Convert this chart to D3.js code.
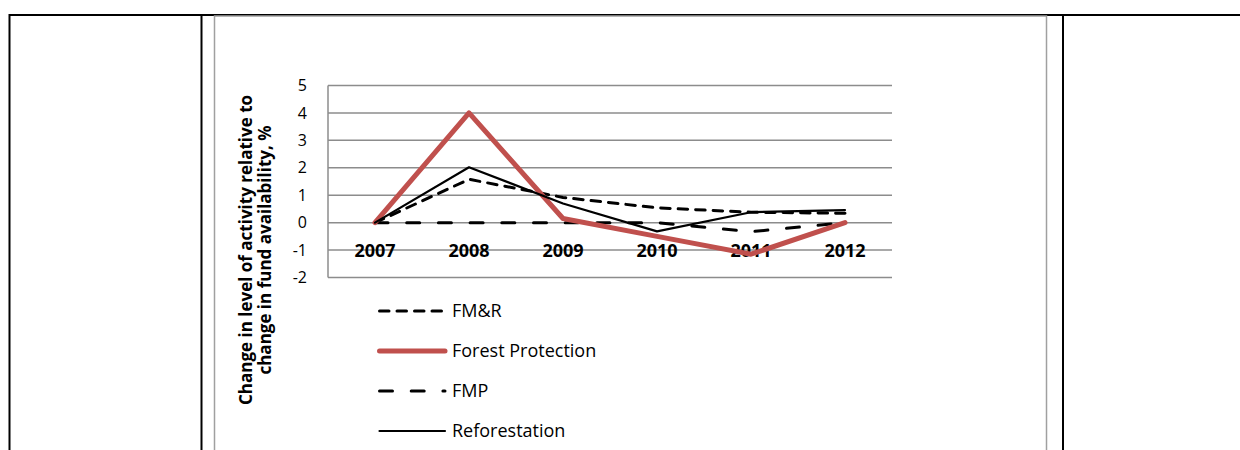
<!DOCTYPE html>
<html>
<head>
<meta charset="utf-8">
<script src="https://cdn.jsdelivr.net/npm/d3@7"></script>
<style>
  html, body { margin: 0; padding: 0; background: #fff; }
  svg { display: block; font-family: "Open Sans", Carlito, Lato, sans-serif; }
</style>
</head>
<body>
<svg id="chart" width="1240" height="450"></svg>
<script>
// Years on the category axis
const years = ["2007", "2008", "2009", "2010", "2011", "2012"];

// Change in level of activity relative to change in fund availability, %
const fmr = [0, 1.58, 0.92, 0.54, 0.38, 0.34];
const forestProtection = [0, 4.0, 0.15, -0.5, -1.15, 0];
const fmp = [0, 0, 0, 0, -0.33, 0];
const reforestation = [0, 2.02, 0.7, -0.32, 0.38, 0.46];

// Value axis ticks
const yTicks = [-2, -1, 0, 1, 2, 3, 4, 5];

const seriesNames = ["FM&R", "Forest Protection", "FMP", "Reforestation"];

const FONT = "'Open Sans', Carlito, Lato, sans-serif";
const svg = d3.select("#chart");

// Surrounding table rules
const table = svg.append("g").attr("stroke", "#000").attr("stroke-width", 2);
table.append("line").attr("x1", 9).attr("x2", 1240).attr("y1", 15).attr("y2", 15);
[9.5, 201.5, 1063].forEach(x =>
  table.append("line").attr("x1", x).attr("x2", x).attr("y1", 14).attr("y2", 450));

// Chart frame
svg.append("rect")
  .attr("x", 214.5).attr("y", 16).attr("width", 832).attr("height", 450)
  .attr("fill", "none").attr("stroke", "#a0a0a0").attr("stroke-width", 1.5);

const plot = { left: 328, right: 892, top: 85.5, bottom: 277.5 };

const x = d3.scaleBand().domain(years).range([plot.left, plot.right]);
const y = d3.scaleLinear().domain([-2, 5]).range([plot.bottom, plot.top]);

// Horizontal gridlines
svg.append("g")
  .selectAll("line").data(yTicks).join("line")
  .attr("x1", plot.left).attr("x2", plot.right)
  .attr("y1", d => y(d)).attr("y2", d => y(d))
  .attr("stroke", "#8c8c8c").attr("stroke-width", 1.5);

// Vertical value axis line
svg.append("line")
  .attr("x1", plot.left).attr("x2", plot.left)
  .attr("y1", plot.top).attr("y2", plot.bottom)
  .attr("stroke", "#8c8c8c").attr("stroke-width", 1.5);

// Value axis labels (plain hyphen for negatives)
const yAxis = d3.axisLeft(y).tickValues(yTicks).tickSize(0).tickPadding(21).tickFormat(d => String(d));
const gy = svg.append("g").attr("transform", `translate(${plot.left},0)`).call(yAxis);
gy.select(".domain").remove();
gy.selectAll("text").attr("font-size", 16).attr("fill", "#000").attr("font-family", FONT);

// Category labels, placed just below the zero line
const xAxis = d3.axisBottom(x).tickSize(0).tickPadding(22);
const gx = svg.append("g").attr("transform", `translate(0,${y(0)})`).call(xAxis);
gx.select(".domain").remove();
gx.selectAll("text").attr("font-size", 18).attr("font-weight", "bold").attr("fill", "#000")
  .attr("font-family", FONT);

// Series styling
const styles = {
  "FM&R": { color: "#000", width: 3, dash: "9.5,8" },
  "Forest Protection": { color: "#c0504d", width: 5, dash: null },
  "FMP": { color: "#000", width: 3, dash: "13,18.7" },
  "Reforestation": { color: "#000", width: 2.2, dash: null }
};
const seriesData = {
  "FM&R": fmr,
  "Forest Protection": forestProtection,
  "FMP": fmp,
  "Reforestation": reforestation
};

const line = d3.line()
  .x((d, i) => x(years[i]) + x.bandwidth() / 2)
  .y(d => y(d));

// Draw order: dashed series under the solid ones
["FMP", "FM&R", "Forest Protection", "Reforestation"].forEach(name => {
  const s = styles[name];
  svg.append("path")
    .datum(seriesData[name])
    .attr("d", line)
    .attr("fill", "none")
    .attr("stroke", s.color)
    .attr("stroke-width", s.width)
    .attr("stroke-linejoin", "round")
    .attr("stroke-linecap", "round")
    .attr("stroke-dasharray", s.dash);
});

// Legend
const legend = svg.append("g").attr("transform", "translate(378,311)");
seriesNames.forEach((name, i) => {
  const s = styles[name];
  const g = legend.append("g").attr("transform", `translate(0,${i * 40})`);
  g.append("line")
    .attr("x1", 1.5).attr("x2", 67).attr("y1", 0).attr("y2", 0)
    .attr("stroke", s.color).attr("stroke-width", s.width)
    .attr("stroke-linecap", "round")
    .attr("stroke-dasharray", s.dash);
  g.append("text")
    .attr("x", 74).attr("y", 0).attr("dy", "0.36em")
    .attr("font-size", 18).attr("fill", "#000")
    .text(name);
});

// Value axis title
const title = svg.append("text")
  .attr("transform", "translate(255,250) rotate(-90)")
  .attr("text-anchor", "middle")
  .attr("font-size", 17).attr("font-weight", "bold").attr("fill", "#000");
title.append("tspan").attr("x", 0).attr("dy", "-0.2em").text("Change in level of activity relative to");
title.append("tspan").attr("x", 0).attr("dy", "1.12em").text("change in fund availability, %");
</script>
</body>
</html>
